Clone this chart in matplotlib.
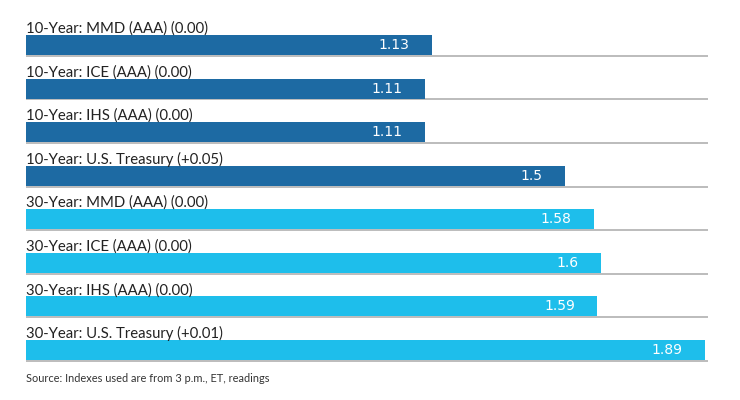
import matplotlib
matplotlib.use("Agg")
import matplotlib.pyplot as plt

categories = [
    "10-Year: MMD (AAA) (0.00)",
    "10-Year: ICE (AAA) (0.00)",
    "10-Year: IHS (AAA) (0.00)",
    "10-Year: U.S. Treasury (+0.05)",
    "30-Year: MMD (AAA) (0.00)",
    "30-Year: ICE (AAA) (0.00)",
    "30-Year: IHS (AAA) (0.00)",
    "30-Year: U.S. Treasury (+0.01)",
]
values = [1.13, 1.11, 1.11, 1.5, 1.58, 1.6, 1.59, 1.89]
value_labels = ["1.13", "1.11", "1.11", "1.5", "1.58", "1.6", "1.59", "1.89"]
groups = ["10", "10", "10", "10", "30", "30", "30", "30"]
source = "Source: Indexes used are from 3 p.m., ET, readings"

colors = {"10": "#1d6aa3", "30": "#1ebeeb"}

W, H = 740, 400
fig = plt.figure(figsize=(W / 100, H / 100), dpi=100)
ax_left, ax_right = 26, 708
ax_top, ax_bottom = 15, 362
ax = fig.add_axes([ax_left / W, 1 - ax_bottom / H, (ax_right - ax_left) / W, (ax_bottom - ax_top) / H])

px_per_unit = (705 - 26) / 1.89
ax.set_xlim(0, (ax_right - ax_left) / px_per_unit)
c0, step = 45, 43.57
ax.set_ylim((ax_bottom - c0) / step, (ax_top - c0) / step)

bh = 20 / step
ys = list(range(len(values)))
ax.barh(ys, values, height=bh, color=[colors[g] for g in groups], zorder=2)

for i, (cat, v, lab) in enumerate(zip(categories, values, value_labels)):
    ax.axhline(i + bh / 2 + 0.02, color="#b0b0b0", lw=1.2, zorder=1)
    ax.annotate(cat, (0, i - bh / 2), xytext=(0, 1.5), textcoords="offset points",
                ha="left", va="baseline", fontsize=10.7, family="Lato", color="#222222")
    ax.annotate(lab, (v, i), xytext=(-16, 0), textcoords="offset points",
                ha="right", va="center", fontsize=10, family="DejaVu Sans", color="white")

ax.axis("off")
fig.text(26 / W, 1 - 379 / H, source, fontsize=7.9, family="Lato", color="#333333",
         ha="left", va="center")

fig.savefig("out.png", dpi=100)
